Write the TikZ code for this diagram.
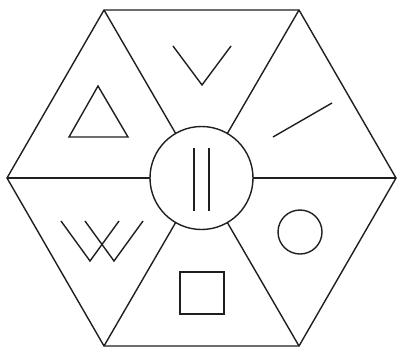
\documentclass[tikz,border=0pt]{standalone}
\begin{document}
\begin{tikzpicture}[x=1pt,y=-1pt,line width=1.4pt,line join=miter,
  ln/.style={draw=black!88}]
\useasboundingbox (0,0) rectangle (398,348);
\coordinate (C) at (201.5,178);
\coordinate (L) at (7,178);
\coordinate (R) at (396,178);
\coordinate (TL) at (104,10);
\coordinate (TR) at (299,10);
\coordinate (BL) at (104,346);
\coordinate (BR) at (299,346);
\draw[ln] (L) -- (TL) -- (TR) -- (R) -- (BR) -- (BL) -- cycle;
\foreach \v in {L,TL,TR,R,BR,BL} \draw[ln] (C) -- (\v);
\node[circle,draw=black!88,fill=white,line width=1.4pt,minimum size=103pt,inner sep=0pt] (mid) at (C) {};
% centre double bar
\draw[ln] (194,148) -- (194,211);
\draw[ln] (209,148) -- (209,211);
% triangle
\draw[ln] (98,86) -- (69,137) -- (128,137) -- cycle;
% check V
\draw[ln] (173,46) -- (202,85) -- (231,46);
% slash
\draw[ln] (273,137) -- (332,103);
% circle
\draw[ln] (300,232) circle (22);
% square
\draw[ln] (180,272) rectangle (224,314);
% W
\draw[ln] (61,221) -- (90,261) -- (119,221);
\draw[ln] (85,221) -- (114,261) -- (143,221);
\end{tikzpicture}
\end{document}
